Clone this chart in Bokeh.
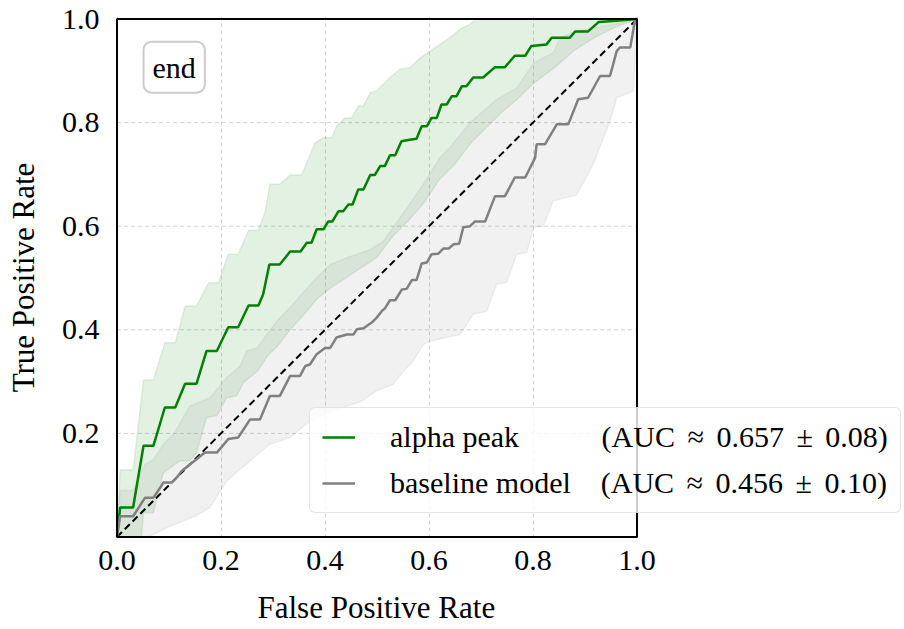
from bokeh.plotting import figure
from bokeh.models import Legend, LegendItem, Label, FixedTicker, PrintfTickFormatter, Title, Range1d
from bokeh.embed import file_html
from bokeh.resources import INLINE

FONT = "Liberation Serif"

# ---- data ----
alpha_fpr = [0.0, 0.006, 0.031, 0.051, 0.07, 0.092, 0.112, 0.131, 0.153, 0.172, 0.192, 0.214, 0.233,
             0.253, 0.272, 0.281, 0.293, 0.313, 0.333, 0.353, 0.365, 0.374, 0.384, 0.397, 0.406, 0.414,
             0.426, 0.435, 0.445, 0.453, 0.464, 0.474, 0.487, 0.496, 0.506, 0.515, 0.525, 0.535, 0.547,
             0.563, 0.576, 0.586, 0.596, 0.605, 0.615, 0.624, 0.634, 0.644, 0.653, 0.663, 0.672, 0.685,
             0.704, 0.727, 0.746, 0.765, 0.785, 0.797, 0.826, 0.836, 0.871, 0.881, 0.906, 0.926, 0.954, 1.0]
alpha_tpr = [0.0, 0.057, 0.057, 0.176, 0.176, 0.25, 0.25, 0.296, 0.296, 0.359, 0.359, 0.405, 0.405,
             0.447, 0.447, 0.468, 0.526, 0.526, 0.551, 0.551, 0.568, 0.568, 0.594, 0.594, 0.609, 0.609,
             0.629, 0.629, 0.642, 0.642, 0.671, 0.671, 0.699, 0.699, 0.716, 0.716, 0.737, 0.737, 0.764,
             0.767, 0.769, 0.793, 0.793, 0.809, 0.809, 0.835, 0.835, 0.851, 0.851, 0.87, 0.87, 0.887,
             0.887, 0.907, 0.907, 0.929, 0.929, 0.948, 0.951, 0.964, 0.964, 0.976, 0.976, 0.994, 0.996, 1.0]

base_fpr = [0.0, 0.006, 0.031, 0.054, 0.07, 0.083, 0.089, 0.105, 0.115, 0.124, 0.14, 0.153, 0.169, 0.192,
            0.214, 0.233, 0.256, 0.275, 0.294, 0.313, 0.333, 0.352, 0.362, 0.371, 0.384, 0.4, 0.41, 0.422,
            0.442, 0.455, 0.461, 0.474, 0.49, 0.499, 0.509, 0.515, 0.525, 0.535, 0.548, 0.557, 0.567, 0.576,
            0.586, 0.596, 0.605, 0.618, 0.628, 0.638, 0.647, 0.658, 0.666, 0.679, 0.688, 0.708, 0.727, 0.746,
            0.765, 0.785, 0.804, 0.807, 0.823, 0.846, 0.868, 0.887, 0.906, 0.929, 0.948, 0.961, 0.967, 0.987,
            0.996, 1.0]
base_tpr = [0.0, 0.04, 0.04, 0.076, 0.076, 0.095, 0.105, 0.105, 0.115, 0.127, 0.14, 0.15, 0.163, 0.163,
            0.189, 0.192, 0.227, 0.227, 0.272, 0.272, 0.311, 0.311, 0.33, 0.333, 0.353, 0.365, 0.365, 0.385,
            0.391, 0.391, 0.401, 0.403, 0.414, 0.423, 0.436, 0.441, 0.457, 0.457, 0.478, 0.479, 0.496, 0.496,
            0.528, 0.53, 0.546, 0.547, 0.557, 0.557, 0.565, 0.566, 0.598, 0.6, 0.609, 0.609, 0.658, 0.658,
            0.694, 0.694, 0.732, 0.758, 0.758, 0.797, 0.797, 0.845, 0.848, 0.89, 0.89, 0.938, 0.945, 0.945,
            0.996, 1.0]

# +/- std bands (upper and lower edges)
alpha_up_fpr = [0.0, 0.006, 0.031, 0.051, 0.07, 0.092, 0.112, 0.131, 0.153, 0.176, 0.195, 0.214, 0.233,
                0.253, 0.272, 0.285, 0.294, 0.313, 0.333, 0.355, 0.381, 0.397, 0.413, 0.422, 0.438, 0.451,
                0.464, 0.474, 0.487, 0.499, 0.512, 0.525, 0.544, 0.563, 0.583, 0.602, 0.621, 0.64, 0.66,
                0.679, 0.69, 1.0]
alpha_up_tpr = [0.0, 0.13, 0.13, 0.303, 0.303, 0.375, 0.375, 0.446, 0.446, 0.491, 0.491, 0.546, 0.546,
                0.592, 0.592, 0.629, 0.681, 0.681, 0.699, 0.699, 0.761, 0.771, 0.771, 0.793, 0.809, 0.809,
                0.832, 0.832, 0.858, 0.861, 0.874, 0.887, 0.903, 0.906, 0.925, 0.938, 0.951, 0.964, 0.981,
                0.99, 1.0, 1.0]
alpha_lo_fpr = [0.0, 0.047, 0.051, 0.07, 0.089, 0.121, 0.14, 0.153, 0.172, 0.192, 0.211, 0.23, 0.243,
                0.27, 0.29, 0.31, 0.333, 0.36, 0.385, 0.41, 0.44, 0.47, 0.5, 0.53, 0.56, 0.59, 0.62, 0.65,
                0.68, 0.71, 0.74, 0.77, 0.8, 0.84, 0.88, 0.92, 0.96, 1.0]
alpha_lo_tpr = [0.0, 0.0, 0.047, 0.047, 0.124, 0.147, 0.147, 0.163, 0.23, 0.234, 0.269, 0.272, 0.298,
                0.32, 0.35, 0.37, 0.4, 0.43, 0.46, 0.48, 0.5, 0.52, 0.54, 0.58, 0.61, 0.645, 0.69, 0.72,
                0.76, 0.79, 0.82, 0.845, 0.875, 0.905, 0.94, 0.965, 0.985, 1.0]

base_up_fpr = [0.0, 0.006, 0.031, 0.054, 0.07, 0.09, 0.11, 0.14, 0.179, 0.211, 0.237, 0.249, 0.269, 0.288,
               0.31, 0.333, 0.358, 0.384, 0.41, 0.442, 0.487, 0.512, 0.563, 0.589, 0.621, 0.64, 0.679, 0.73,
               0.769, 0.801, 0.839, 0.852, 0.884, 0.954, 1.0]
base_up_tpr = [0.0, 0.09, 0.09, 0.14, 0.15, 0.18, 0.2, 0.253, 0.269, 0.308, 0.33, 0.359, 0.365, 0.391,
               0.42, 0.443, 0.472, 0.501, 0.526, 0.539, 0.555, 0.571, 0.643, 0.681, 0.732, 0.752, 0.8, 0.845,
               0.867, 0.915, 0.935, 0.964, 0.977, 0.99, 1.0]
base_lo_fpr = [0.0, 0.06, 0.1, 0.15, 0.179, 0.211, 0.256, 0.294, 0.333, 0.371, 0.42, 0.47, 0.499, 0.531,
               0.551, 0.57, 0.589, 0.602, 0.634, 0.66, 0.685, 0.711, 0.73, 0.749, 0.769, 0.788, 0.801, 0.82,
               0.839, 0.884, 0.916, 0.948, 0.961, 0.993, 1.0]
base_lo_tpr = [0.0, 0.0, 0.02, 0.04, 0.057, 0.108, 0.147, 0.179, 0.192, 0.224, 0.245, 0.262, 0.282, 0.295,
               0.32, 0.34, 0.372, 0.378, 0.385, 0.391, 0.43, 0.436, 0.488, 0.491, 0.546, 0.549, 0.597, 0.6,
               0.649, 0.66, 0.72, 0.803, 0.848, 0.861, 1.0]

chance_x = [0.0, 1.0]
chance_y = [0.0, 1.0]

x_ticks = [0.0, 0.2, 0.4, 0.6, 0.8, 1.0]
y_ticks = [0.2, 0.4, 0.6, 0.8, 1.0]

NB = "\u00a0"
GAP = "\u00a0\u2006"   # slightly wider than a normal space, like math spacing
auc_alpha = "(AUC" + GAP + "\u2248" + GAP + "0.657" + GAP + "\u00b1" + GAP + "0.08)"
auc_base = "(AUC" + GAP + "\u2248" + GAP + "0.456" + GAP + "\u00b1" + GAP + "0.10)"
label_alpha = "alpha peak" + NB * 11 + auc_alpha
label_base = "baseline model" + NB * 4 + auc_base
annot_text = "end"
x_label = "False Positive Rate"
y_label = "True Positive Rate"

# ---- layout (pixels) ----
W, H = 904, 629
BL, BR, BT, BB = 115, 0, 16, 91
PX_X, PX_Y = 520.0, 518.0          # pixels per unit on each axis
x0 = -1.5 / PX_X
y0 = -1.5 / PX_Y
x_rng = Range1d(x0, x0 + (W - BL - BR) / PX_X)
y_rng = Range1d(y0, y0 + (H - BT - BB) / PX_Y)

p = figure(width=W, height=H, x_range=x_rng, y_range=y_rng,
           output_backend="svg", toolbar_location=None,
           min_border_left=BL, min_border_right=BR, min_border_top=BT, min_border_bottom=BB)
p.background_fill_color = "white"
p.border_fill_color = "white"
p.outline_line_color = None

GRID_COLOR = "#d4d4d4"
p.xgrid.grid_line_color = GRID_COLOR
p.xgrid.grid_line_dash = "4 3"
p.xgrid.grid_line_width = 1
p.ygrid.visible = False

p.xaxis.ticker = FixedTicker(ticks=x_ticks)
p.yaxis.ticker = FixedTicker(ticks=y_ticks)
for ax in (p.xaxis, p.yaxis):
    ax.formatter = PrintfTickFormatter(format="%.1f")
    ax.axis_line_color = None
    ax.major_tick_line_color = None
    ax.minor_tick_line_color = None
    ax.major_label_text_font = FONT
    ax.major_label_text_font_size = "30px"
    ax.major_label_text_color = "black"
    ax.axis_label_text_font = FONT
    ax.axis_label_text_font_size = "31px"
    ax.axis_label_text_font_style = "normal"
    ax.axis_label_text_color = "black"
p.yaxis.axis_label = y_label
p.xaxis.major_label_standoff = 6
p.yaxis.major_label_standoff = 10
p.yaxis.axis_label_standoff = 18
# invisible spacer under the x tick labels
p.xaxis.axis_label = NB
p.xaxis.axis_label_text_font_size = "6px"
p.xaxis.axis_label_standoff = 6

# x-axis label centred on the [0, 1] part of the frame
p.add_layout(Title(text=x_label, align="left", offset=142, text_font=FONT, text_font_size="31px",
                   text_font_style="normal", text_color="black", standoff=0), "below")

# horizontal grid lines restricted to [0, 1]
p.segment(x0=[x_ticks[0]] * len(y_ticks), x1=[x_ticks[-1]] * len(y_ticks), y0=y_ticks, y1=y_ticks,
          line_color=GRID_COLOR, line_dash="4 3", line_width=1)

# bands
p.patch(x=alpha_up_fpr + alpha_lo_fpr[::-1], y=alpha_up_tpr + alpha_lo_tpr[::-1],
        fill_color="green", fill_alpha=0.11, line_color="green", line_alpha=0.1, line_width=1.5)
p.patch(x=base_up_fpr + base_lo_fpr[::-1], y=base_up_tpr + base_lo_tpr[::-1],
        fill_color="gray", fill_alpha=0.11, line_color="gray", line_alpha=0.1, line_width=1.5)

# chance line
p.line(chance_x, chance_y, line_color="black", line_width=2, line_dash="7 4")

# mean curves
r_alpha = p.line(alpha_fpr, alpha_tpr, line_color="green", line_width=2.5)
r_base = p.line(base_fpr, base_tpr, line_color="gray", line_width=2.5)

# axes frame on [0, 1] x [0, 1]
p.quad(left=[x_ticks[0]], right=[x_ticks[-1]], bottom=[chance_y[0]], top=[chance_y[-1]],
       fill_alpha=0, line_color="black", line_width=2)

legend = Legend(items=[LegendItem(label=label_alpha, renderers=[r_alpha]),
                       LegendItem(label=label_base, renderers=[r_base])],
                location=(194, 25))
legend.label_text_font = FONT
legend.label_text_font_size = "30px"
legend.label_text_color = "black"
legend.glyph_width = 33
legend.glyph_height = 20
legend.label_standoff = 35
legend.padding = 12
legend.spacing = 12
legend.margin = 0
legend.border_line_color = "#cccccc"
legend.border_line_width = 1.5
legend.background_fill_color = "white"
legend.background_fill_alpha = 0.8
try:
    legend.border_radius = 6
except Exception:
    pass
p.add_layout(legend)

lab = Label(x=0.11, y=0.907, text=annot_text, text_align="center", text_baseline="middle",
            text_font=FONT, text_font_size="30px", text_color="black",
            border_line_color="#cccccc", border_line_width=2,
            background_fill_color="white", background_fill_alpha=0.8)
for k, v in (("padding", 9), ("border_radius", 8)):
    try:
        setattr(lab, k, v)
    except Exception:
        pass
p.add_layout(lab)

open("out.html", "w").write(file_html(p, INLINE))
